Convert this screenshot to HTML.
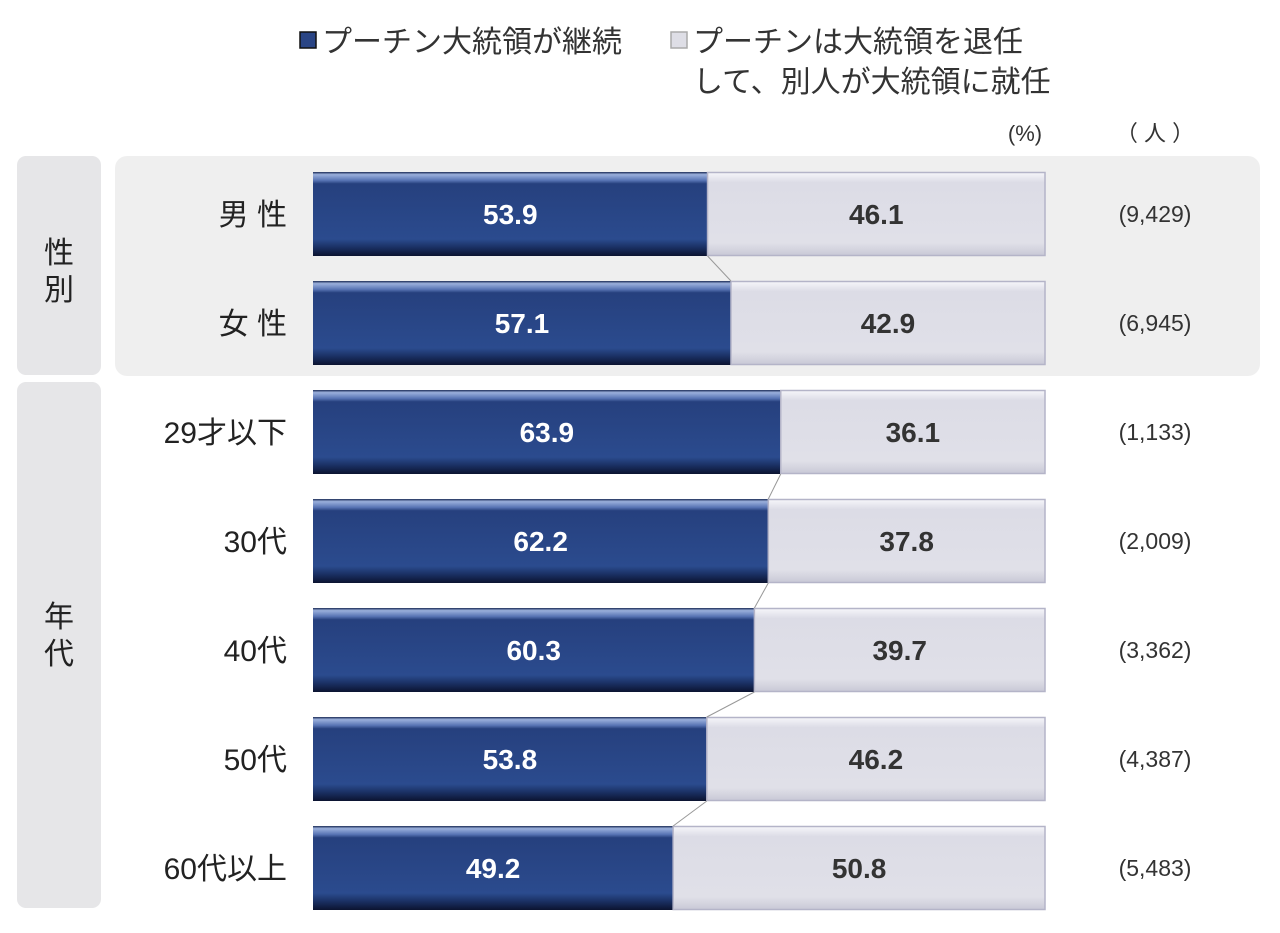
<!DOCTYPE html>
<html><head><meta charset="utf-8"><style>
html,body{margin:0;padding:0;background:#fff;}
svg{display:block;font-family:"Liberation Sans","Noto Sans CJK JP",sans-serif;}
</style></head><body>
<svg id="chart" width="1280" height="933" viewBox="0 0 1280 933">
<defs>
<linearGradient id="gBlue" x1="0" y1="0" x2="0" y2="1">
<stop offset="0" stop-color="#1a2a55"/><stop offset="0.03" stop-color="#9bb0dc"/><stop offset="0.1" stop-color="#5874b4"/><stop offset="0.14" stop-color="#26407e"/><stop offset="0.8" stop-color="#2b4b8e"/><stop offset="0.9" stop-color="#1a2f62"/><stop offset="1" stop-color="#0b1330"/>
</linearGradient>
<linearGradient id="gGray" x1="0" y1="0" x2="0" y2="1">
<stop offset="0" stop-color="#f6f6fa"/><stop offset="0.12" stop-color="#dcdce6"/><stop offset="0.85" stop-color="#e0e0e8"/><stop offset="1" stop-color="#c8c8d6"/>
</linearGradient>
</defs>
<rect x="17" y="156" width="84" height="219" rx="9" fill="#e6e6e8"/>
<rect x="115" y="156" width="1145" height="220" rx="12" fill="#efefef"/>
<rect x="17" y="382" width="84" height="526" rx="9" fill="#e6e6e8"/>
<text x="59" y="263" font-size="30" text-anchor="middle" fill="#222">性</text>
<text x="59" y="300" font-size="30" text-anchor="middle" fill="#222">別</text>
<text x="59" y="627" font-size="30" text-anchor="middle" fill="#222">年</text>
<text x="59" y="664" font-size="30" text-anchor="middle" fill="#222">代</text>
<g>
<rect x="300" y="32" width="16" height="16" fill="#2a4585" stroke="#111" stroke-width="1.5"/>
<text x="322" y="52" font-size="30" fill="#333">プーチン大統領が継続</text>
<rect x="671" y="32" width="16" height="16" fill="#dedee6" stroke="#aaa" stroke-width="1.5"/>
<text x="693" y="52" font-size="30" fill="#333">プーチンは大統領を退任</text>
<text x="693" y="92" font-size="30" fill="#333">して、別人が大統領に就任</text>
</g>
<text x="1025" y="141" font-size="22" text-anchor="middle" fill="#333">(%)</text>
<text x="1155" y="141" font-size="22" text-anchor="middle" fill="#333">（ 人 ）</text>
<g id="bars"></g>
</svg>
<script>
const categories = ["男 性","女 性","29才以下","30代","40代","50代","60代以上"];
const continueValues = [53.9,57.1,63.9,62.2,60.3,53.8,49.2];
const counts = ["(9,429)","(6,945)","(1,133)","(2,009)","(3,362)","(4,387)","(5,483)"];
const groups = [0,0,1,1,1,1,1];

const NS = "http://www.w3.org/2000/svg";
const g = document.getElementById("bars");
const X0 = 313, W = 732, TOP = 172, STEP = 109, H = 84;
const xs = v => X0 + v / 100 * W;
const ys = i => TOP + i * STEP;
function mk(tag, attrs){const e=document.createElementNS(NS,tag);for(const k in attrs)e.setAttribute(k,attrs[k]);g.appendChild(e);return e;}
categories.forEach((c,i)=>{
  const v = continueValues[i], y = ys(i), xm = xs(v);
  const b1 = mk("rect",{x:X0,y:y,width:xm-X0,height:H,fill:"url(#gBlue)"});
  
  
  const b2 = mk("rect",{x:xm,y:y+0.5,width:xs(100)-xm,height:H-1,fill:"url(#gGray)",stroke:"#b4b4c8","stroke-width":1.5});
  
  
  const t1 = mk("text",{x:(X0+xm)/2,y:y+H/2+10,"font-size":28,"font-weight":"bold","text-anchor":"middle",fill:"#fff"});
  t1.textContent = v.toFixed(1);
  
  
  const t2 = mk("text",{x:(xm+xs(100))/2,y:y+H/2+10,"font-size":28,"font-weight":"bold","text-anchor":"middle",fill:"#333"});
  t2.textContent = (100-v).toFixed(1);
  
  
  const lb = mk("text",{x:287,y:y+H/2+11,"font-size":30,"text-anchor":"end",fill:"#222"});
  lb.textContent = c;
  
  
  const cn = mk("text",{x:1155,y:y+H/2+8,"font-size":23,"text-anchor":"middle",fill:"#333"});
  cn.textContent = counts[i];
  
  
  if(i>0 && groups[i]===groups[i-1]){
    const ln = mk("line",{x1:xs(continueValues[i-1]),y1:ys(i-1)+H,x2:xm,y2:y,stroke:"#999","stroke-width":1});
    
    
  }
});
</script>
</body></html>
